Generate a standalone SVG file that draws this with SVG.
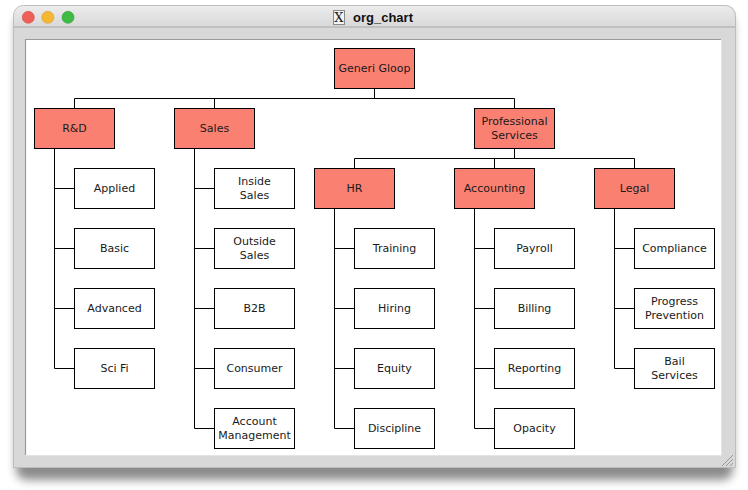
<svg xmlns="http://www.w3.org/2000/svg" width="748" height="490" viewBox="0 0 748 490">
<defs>
<style>
.n rect{stroke:#000;stroke-width:1}
.d rect{fill:#FA8072}
.l rect{fill:#fff}
text{font-family:"DejaVu Sans",sans-serif;font-size:11px;fill:#1a1a1a;text-anchor:middle}
.c path{fill:none;stroke:#000;stroke-width:1}
</style>
<linearGradient id="tb" x1="0" y1="0" x2="0" y2="1">
<stop offset="0" stop-color="#ececec"/><stop offset="1" stop-color="#d8d8d8"/>
</linearGradient>
<filter id="sh" x="-10%" y="-10%" width="120%" height="130%">
<feGaussianBlur stdDeviation="5"/>
</filter>
</defs>
<rect width="748" height="490" fill="#fff"/>
<g id="window">
<rect x="16" y="14" width="717" height="466" rx="10" fill="#000" opacity="0.45" filter="url(#sh)"/>
<path d="M13.5 467.5 V15.5 a10 10 0 0 1 10 -10 H725.5 a10 10 0 0 1 10 10 V467.5 Z" fill="#d8d8d8" stroke="#bdbdbd"/>
<path d="M14 27 V15.5 a9.5 9.5 0 0 1 9.5 -9.5 H725 a9.5 9.5 0 0 1 9.5 9.5 V27 Z" fill="url(#tb)"/>
<line x1="14" y1="27" x2="735" y2="27" stroke="#a8a8a8"/>
<circle cx="28.3" cy="17.3" r="6" fill="#ed5f57" stroke="#d24b42" stroke-width="0.6"/>
<circle cx="47.8" cy="17.3" r="6" fill="#f6b832" stroke="#d99b22" stroke-width="0.6"/>
<circle cx="68" cy="17.3" r="6" fill="#3fbb43" stroke="#2ea033" stroke-width="0.6"/>
<rect x="333.5" y="10.5" width="11" height="14" fill="#f4f4f4" stroke="#8a8a8a"/>
<text x="339" y="22" style="font-family:'DejaVu Serif',serif;font-size:13px;fill:#222">X</text>
<text x="353" y="22" style="font-family:'Liberation Sans',sans-serif;font-size:13px;font-weight:bold;fill:#111;text-anchor:start">org_chart</text>
<rect x="25" y="39" width="697" height="417" fill="#fff"/>
<path d="M25.5 456 V39.5 H722" fill="none" stroke="#9a9a9a" stroke-width="1.2"/>
<path d="M25 455.5 H722 M721.5 39 V456" fill="none" stroke="#e4e4e4"/>
<g stroke="#8a8a8a" stroke-width="0.8">
<line x1="722" y1="466" x2="733" y2="455"/>
<line x1="726" y1="466" x2="733" y2="459"/>
<line x1="730" y1="466" x2="733" y2="463"/>
</g>
</g>
<g class="c" id="connectors">
<path d="M374.5 88 V98.5 M74.5 108 V98.5 H514.5 V108 M214.5 98.5 V108"/>
<path d="M514.5 148 V158.5 M354.5 168 V158.5 H634.5 V168 M494.5 158.5 V168"/>
<path d="M54.5 148 V368.5 M54.5 188.5 H74 M54.5 248.5 H74 M54.5 308.5 H74 M54.5 368.5 H74"/>
<path d="M194.5 148 V428.5 M194.5 188.5 H214 M194.5 248.5 H214 M194.5 308.5 H214 M194.5 368.5 H214 M194.5 428.5 H214"/>
<path d="M334.5 208 V428.5 M334.5 248.5 H354 M334.5 308.5 H354 M334.5 368.5 H354 M334.5 428.5 H354"/>
<path d="M474.5 208 V428.5 M474.5 248.5 H494 M474.5 308.5 H494 M474.5 368.5 H494 M474.5 428.5 H494"/>
<path d="M614.5 208 V368.5 M614.5 248.5 H634 M614.5 308.5 H634 M614.5 368.5 H634"/>
</g>
<g id="generi-gloop" class="n d"><rect x="334.5" y="48.5" width="80" height="40"/><text x="374.5" y="72">Generi Gloop</text></g>
<g id="rd" class="n d"><rect x="34.5" y="108.5" width="80" height="40"/><text x="74.5" y="132">R&amp;D</text></g>
<g id="sales" class="n d"><rect x="174.5" y="108.5" width="80" height="40"/><text x="214.5" y="132">Sales</text></g>
<g id="professional-services" class="n d"><rect x="474.5" y="108.5" width="80" height="40"/><text x="514.5" y="125">Professional</text><text x="514.5" y="139">Services</text></g>
<g id="hr" class="n d"><rect x="314.5" y="168.5" width="80" height="40"/><text x="354.5" y="192">HR</text></g>
<g id="accounting" class="n d"><rect x="454.5" y="168.5" width="80" height="40"/><text x="494.5" y="192">Accounting</text></g>
<g id="legal" class="n d"><rect x="594.5" y="168.5" width="80" height="40"/><text x="634.5" y="192">Legal</text></g>
<g id="applied" class="n l"><rect x="74.5" y="168.5" width="80" height="40"/><text x="114.5" y="192">Applied</text></g>
<g id="basic" class="n l"><rect x="74.5" y="228.5" width="80" height="40"/><text x="114.5" y="252">Basic</text></g>
<g id="advanced" class="n l"><rect x="74.5" y="288.5" width="80" height="40"/><text x="114.5" y="312">Advanced</text></g>
<g id="sci-fi" class="n l"><rect x="74.5" y="348.5" width="80" height="40"/><text x="114.5" y="372">Sci Fi</text></g>
<g id="inside-sales" class="n l"><rect x="214.5" y="168.5" width="80" height="40"/><text x="254.5" y="185">Inside</text><text x="254.5" y="199">Sales</text></g>
<g id="outside-sales" class="n l"><rect x="214.5" y="228.5" width="80" height="40"/><text x="254.5" y="245">Outside</text><text x="254.5" y="259">Sales</text></g>
<g id="b2b" class="n l"><rect x="214.5" y="288.5" width="80" height="40"/><text x="254.5" y="312">B2B</text></g>
<g id="consumer" class="n l"><rect x="214.5" y="348.5" width="80" height="40"/><text x="254.5" y="372">Consumer</text></g>
<g id="account-management" class="n l"><rect x="214.5" y="408.5" width="80" height="40"/><text x="254.5" y="425">Account</text><text x="254.5" y="439">Management</text></g>
<g id="training" class="n l"><rect x="354.5" y="228.5" width="80" height="40"/><text x="394.5" y="252">Training</text></g>
<g id="hiring" class="n l"><rect x="354.5" y="288.5" width="80" height="40"/><text x="394.5" y="312">Hiring</text></g>
<g id="equity" class="n l"><rect x="354.5" y="348.5" width="80" height="40"/><text x="394.5" y="372">Equity</text></g>
<g id="discipline" class="n l"><rect x="354.5" y="408.5" width="80" height="40"/><text x="394.5" y="432">Discipline</text></g>
<g id="payroll" class="n l"><rect x="494.5" y="228.5" width="80" height="40"/><text x="534.5" y="252">Payroll</text></g>
<g id="billing" class="n l"><rect x="494.5" y="288.5" width="80" height="40"/><text x="534.5" y="312">Billing</text></g>
<g id="reporting" class="n l"><rect x="494.5" y="348.5" width="80" height="40"/><text x="534.5" y="372">Reporting</text></g>
<g id="opacity" class="n l"><rect x="494.5" y="408.5" width="80" height="40"/><text x="534.5" y="432">Opacity</text></g>
<g id="compliance" class="n l"><rect x="634.5" y="228.5" width="80" height="40"/><text x="674.5" y="252">Compliance</text></g>
<g id="progress-prevention" class="n l"><rect x="634.5" y="288.5" width="80" height="40"/><text x="674.5" y="305">Progress</text><text x="674.5" y="319">Prevention</text></g>
<g id="bail-services" class="n l"><rect x="634.5" y="348.5" width="80" height="40"/><text x="674.5" y="365">Bail</text><text x="674.5" y="379">Services</text></g>
</svg>
